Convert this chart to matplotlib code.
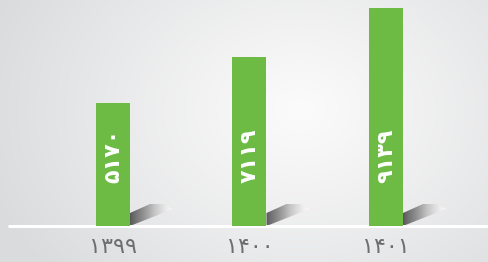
import numpy as np
import matplotlib.pyplot as plt
from matplotlib.patches import Polygon

years = ["1399", "1400", "1401"]
values = [5170, 7119, 9139]

fa_digits = str.maketrans("0123456789", "۰۱۲۳۴۵۶۷۸۹")

green = "#6dbb45"

fig = plt.figure(figsize=(4.89, 2.62), dpi=100)
ax = fig.add_axes([0, 0, 1, 1])
ax.set_axis_off()

px_x = 1 / 136.5   # data units per pixel along x
px_y = 42.0        # data units per pixel along y
x0, x1 = -113 * px_x, (489 - 113) * px_x
y0, y1 = -36 * px_y, 226 * px_y
ax.set_xlim(x0, x1)
ax.set_ylim(y0, y1)

# radial background
gx, gy = np.meshgrid(np.linspace(0, 489, 489), np.linspace(0, 262, 262))
r = np.sqrt(((gx - 300) / 330) ** 2 + ((gy - 110) / 260) ** 2)
r = np.clip(r, 0, 1)
c_in = np.array([251, 251, 251]) / 255
c_out = np.array([218, 219, 221]) / 255
bg = c_in + (c_out - c_in) * r[..., None] ** 1.1
ax.imshow(bg, extent=[x0, x1, y0, y1], aspect="auto", zorder=0)

# baseline
ax.plot([x0 + 8 * px_x, x1], [0, 0], color="white", lw=2.2, zorder=3,
        solid_capstyle="butt")

bar_w = 34 * px_x
bars = ax.bar(range(len(values)), values, width=bar_w, color=green, zorder=4)

# shadows
shade = np.linspace(0, 1, 100)[None, :]
for b in bars:
    bx = b.get_x() + b.get_width()
    pts = [(bx, 0), (bx, 13 * px_y), (bx + 20 * px_x, 22 * px_y),
           (bx + 34 * px_x, 22 * px_y), (bx + 43 * px_x, 17 * px_y)]
    poly = Polygon(pts, closed=True, facecolor="none", edgecolor="none")
    ax.add_patch(poly)
    im = ax.imshow(shade, cmap="Greys_r", vmin=-0.25, vmax=1.05,
                   extent=[bx, bx + 43 * px_x, 0, 22 * px_y],
                   aspect="auto", zorder=2, alpha=0.85)
    im.set_clip_path(poly)

for i, (b, v) in enumerate(zip(bars, values)):
    ax.text(i, 70 * px_y, str(v).translate(fa_digits), rotation=90,
            ha="center", va="center", color="white", fontsize=16,
            fontweight="bold", family="DejaVu Sans", zorder=5)

for i, y in enumerate(years):
    ax.text(i, -21 * px_y, y.translate(fa_digits), ha="center", va="center",
            color="#6e6e6e", fontsize=16, family="DejaVu Sans", zorder=5)

ax.set_xlim(x0, x1)
ax.set_ylim(y0, y1)
fig.savefig("out.png", dpi=100)
